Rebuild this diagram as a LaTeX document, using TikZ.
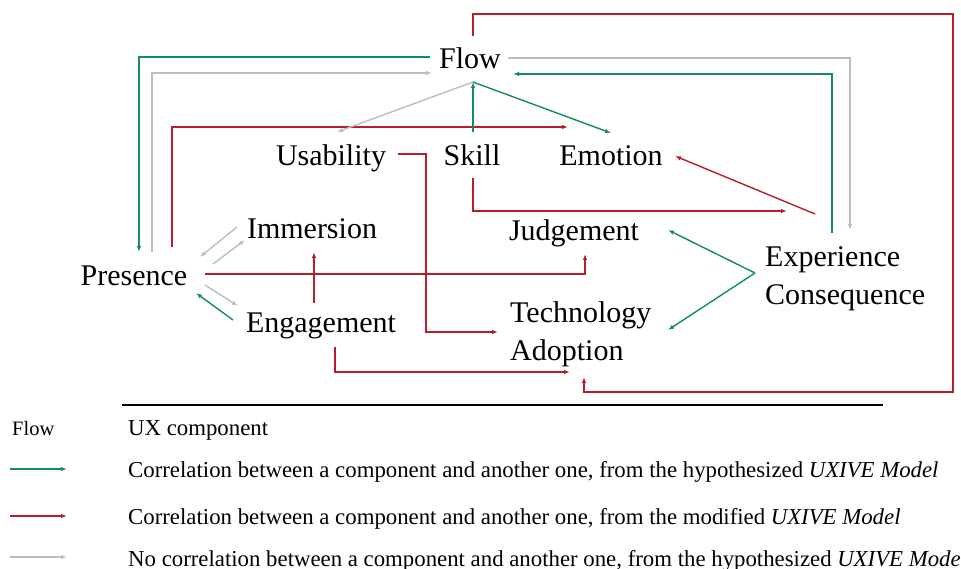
\documentclass[tikz,border=0pt]{standalone}
\usepackage{fontspec}
\setmainfont{Liberation Serif}
\usetikzlibrary{arrows.meta}
\definecolor{cgreen}{RGB}{20,140,95}
\definecolor{cred}{RGB}{185,30,40}
\definecolor{cgray}{RGB}{190,190,190}
\begin{document}
\begin{tikzpicture}[x=1pt,y=-1pt,
  lbl/.style={font=\fontsize{30}{34}\selectfont, inner sep=0pt, anchor=base},
  leg/.style={font=\fontsize{22.8}{26}\selectfont, inner sep=0pt, anchor=base west},
  conn/.style={line width=1.4pt,-{Latex[length=6pt,width=4.5pt]}},
  gline/.style={conn,draw=cgreen},
  rline/.style={conn,draw=cred},
  yline/.style={conn,draw=cgray}]
\useasboundingbox[fill=white] (0,0) rectangle (961,569);
% nodes
\node[lbl] (flow) at (470,69) {Flow};
\node[lbl] (usab) at (331,166) {Usability};
\node[lbl] (skill) at (472,166) {Skill};
\node[lbl] (emo) at (611,166) {Emotion};
\node[lbl] (imm) at (312,239) {Immersion};
\node[lbl] (pres) at (134,286) {Presence};
\node[lbl] (eng) at (321,333) {Engagement};
\node[lbl] (judg) at (574,241) {Judgement};
\node[lbl,anchor=base west] (exp) at (765,267) {Experience};
\node[lbl,anchor=base west] (cons) at (765,305) {Consequence};
\node[lbl,anchor=base west] (tech) at (510,323) {Technology};
\node[lbl,anchor=base west] (adop) at (510,360) {Adoption};
% ports
\coordinate (flowW1) at (430,57);
\coordinate (flowW2) at (432,73);
\coordinate (flowS) at (473,82);
\coordinate (flowN) at (473,36);
\coordinate (flowE1) at (508,58);
\coordinate (flowE2) at (513,74);
\coordinate (presN1) at (139,252);
\coordinate (presN2) at (152,252);
\coordinate (presN3) at (172,247);
\coordinate (emoNW) at (568,127);
\coordinate (usabN) at (337,132);
\coordinate (skillN) at (473,132);
\coordinate (skillS) at (473,178);
\coordinate (emoN) at (611,133);
\coordinate (emoE) at (675,156);
\coordinate (adopS) at (584,377);
\coordinate (adopW) at (570,372);
\coordinate (expN1) at (850,230);
\coordinate (expN2) at (832,233);
\coordinate (expNW) at (815,214);
\coordinate (expW) at (787,211);
\coordinate (expV) at (755,273);
\coordinate (usabE) at (398,154);
\coordinate (techW) at (498,332);
\coordinate (immSW1) at (237,227);
\coordinate (presNE1) at (200,257);
\coordinate (presNE2) at (213,264);
\coordinate (immSW2) at (245,240);
\coordinate (presE1) at (205,285);
\coordinate (engNW1) at (238,306);
\coordinate (engNW2) at (233,320);
\coordinate (presSE) at (196,293);
\coordinate (presE2) at (205,274);
\coordinate (judgS) at (585,254);
\coordinate (engN) at (314,303);
\coordinate (immS) at (314,252);
\coordinate (engS) at (335,347);
\coordinate (judgE) at (668,230);
\coordinate (techE) at (668,330);
% connectors
\draw[gline] (flowW1) -| (presN1);
\draw[yline] (presN2) |- (flowW2);
\draw[rline] (presN3) |- (emoNW);
\draw[yline] (flowS) -- (usabN);
\draw[gline] (skillN) -- (flowS);
\draw[gline] (flowS) -- (emoN);
\draw[rline] (flowN) -- (473,14) -- (953,14) -- (953,392) -| (adopS);
\draw[yline] (flowE1) -| (expN1);
\draw[gline] (expN2) |- (flowE2);
\draw[rline] (usabE) -- (426,154) |- (techW);
\draw[rline] (skillS) |- (expW);
\draw[rline] (expNW) -- (emoE);
\draw[yline] (immSW1) -- (presNE1);
\draw[yline] (presNE2) -- (immSW2);
\draw[yline] (presE1) -- (engNW1);
\draw[gline] (engNW2) -- (presSE);
\draw[rline] (presE2) -| (judgS);
\draw[rline] (engN) -- (immS);
\draw[rline] (engS) |- (adopW);
\draw[gline] (expV) -- (judgE);
\draw[gline] (expV) -- (techE);
% legend
\coordinate (ruleL) at (122,405);
\coordinate (ruleR) at (883,405);
\draw[line width=2pt] (ruleL) -- (ruleR);
\node[leg,font=\fontsize{20.5}{24}\selectfont] (lflow) at (12,435) {Flow};
\node[leg] (lux) at (128,435) {UX component};
\coordinate (lg1) at (10,469); \coordinate (lg2) at (67,469);
\coordinate (lr1) at (10,516); \coordinate (lr2) at (67,516);
\coordinate (ly1) at (10,557); \coordinate (ly2) at (67,557);
\draw[gline,line width=1.3pt] (lg1) -- (lg2);
\draw[rline,line width=1.3pt] (lr1) -- (lr2);
\draw[yline,line width=1.3pt] (ly1) -- (ly2);
\node[leg] (lgt) at (128,477) {Correlation between a component and another one, from the hypothesized \textit{UXIVE Model}};
\node[leg] (lrt) at (128,524) {Correlation between a component and another one, from the modified \textit{UXIVE Model}};
\node[leg] (lyt) at (128,566) {No correlation between a component and another one, from the hypothesized \textit{UXIVE Model}};
\end{tikzpicture}
\end{document}
